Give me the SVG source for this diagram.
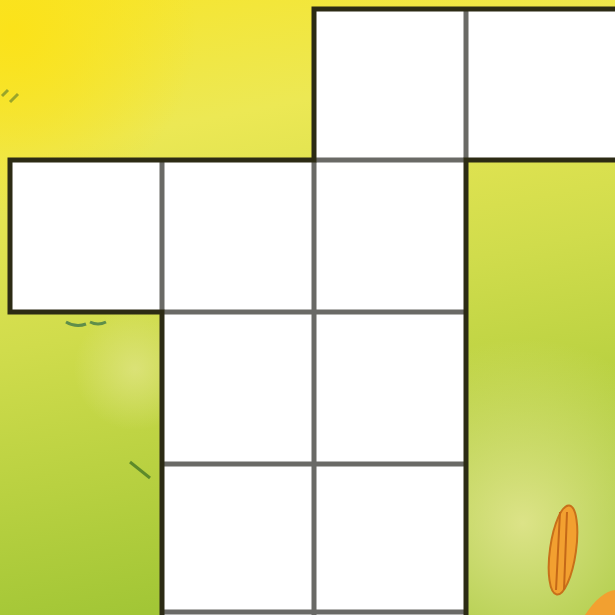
<svg xmlns="http://www.w3.org/2000/svg" width="615" height="615" viewBox="0 0 615 615">
<defs>
<linearGradient id="bg" x1="0" y1="0" x2="0.2" y2="1">
<stop offset="0" stop-color="#f7e52c"/>
<stop offset="0.25" stop-color="#ece854"/>
<stop offset="0.55" stop-color="#d0dc4c"/>
<stop offset="1" stop-color="#a2c636"/>
</linearGradient>
<radialGradient id="glow" cx="0.85" cy="0.85" r="0.3">
<stop offset="0" stop-color="#e6e896" stop-opacity="0.85"/>
<stop offset="1" stop-color="#e6e896" stop-opacity="0"/>
</radialGradient>
<radialGradient id="glow2" cx="0.22" cy="0.6" r="0.1">
<stop offset="0" stop-color="#e2e68a" stop-opacity="0.7"/>
<stop offset="1" stop-color="#e2e68a" stop-opacity="0"/>
</radialGradient>
<radialGradient id="sun" cx="0.02" cy="0.05" r="0.3">
<stop offset="0" stop-color="#fbe21a"/>
<stop offset="1" stop-color="#fbe21a" stop-opacity="0"/>
</radialGradient>
<style>
.cell{fill:#ffffff;stroke:none}
.inner{stroke:#6a6a66;stroke-width:5;fill:none}
.outer{stroke:#2c2b14;stroke-width:5;fill:none;stroke-linejoin:miter}
</style>
</defs>
<rect width="615" height="615" fill="url(#bg)"/>
<rect width="615" height="615" fill="url(#glow)"/>
<rect width="615" height="615" fill="url(#glow2)"/>
<rect width="615" height="615" fill="url(#sun)"/>
<g id="decor">
<path d="M130,462 L150,478" stroke="#5d8a2a" stroke-width="3"/>
<path d="M66,322 q10,6 20,2 M90,322 q8,4 16,0" stroke="#5f8e4a" stroke-width="3" fill="none"/>
<path d="M2,96 l6,-6 M10,102 l8,-8" stroke="#9aa52a" stroke-width="3"/>
<ellipse cx="563" cy="550" rx="13" ry="45" fill="#f2a030" stroke="#c8701a" stroke-width="2" transform="rotate(8 563 550)"/>
<path d="M560,512 L556,590 M567,512 L564,590" stroke="#c46818" stroke-width="2"/>
<path d="M585,615 Q600,592 615,590 L615,615 Z" fill="#f2a030"/>
</g>
<g id="cells">
<rect class="cell" x="314" y="9" width="152" height="151"/>
<rect class="cell" x="466" y="9" width="149" height="151"/>
<rect class="cell" x="10" y="160" width="152" height="152"/>
<rect class="cell" x="162" y="160" width="152" height="152"/>
<rect class="cell" x="314" y="160" width="152" height="152"/>
<rect class="cell" x="162" y="312" width="152" height="152"/>
<rect class="cell" x="314" y="312" width="152" height="152"/>
<rect class="cell" x="162" y="464" width="152" height="151"/>
<rect class="cell" x="314" y="464" width="152" height="151"/>
</g>
<g id="lines">
<path class="inner" d="M466,9 V160 M162,160 V312 M314,160 V615 M314,160 H466 M162,312 H466 M162,464 H466 M162,612 H466"/>
<path class="outer" d="M615,9 H314 V160 H10 V312 H162 V615 M615,160 H466 V615"/>
</g>
</svg>
